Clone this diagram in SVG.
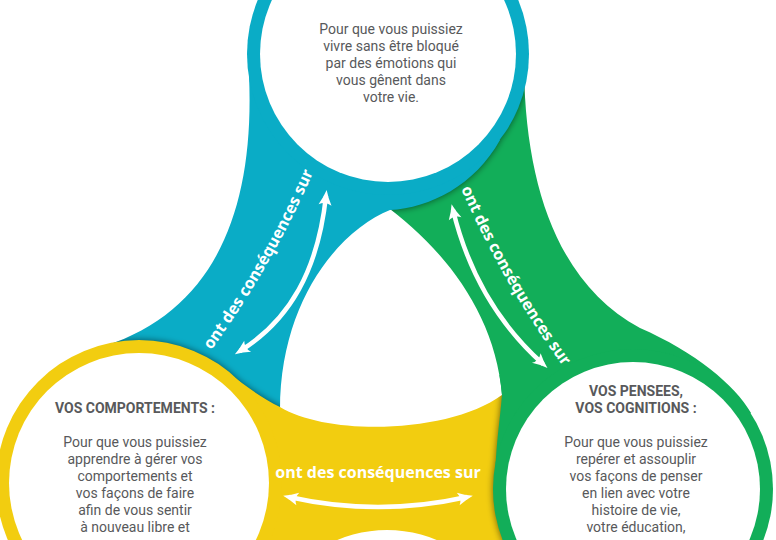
<svg xmlns="http://www.w3.org/2000/svg" xmlns:xlink="http://www.w3.org/1999/xlink" width="776" height="540" viewBox="0 0 776 540">
<style>
.fb{fill:#0aacc6}
.fg{fill:#12ae59}
.fy{fill:#f2cd10}
.w{fill:#ffffff}
.t{font-family:Roboto,"Liberation Sans",sans-serif;font-size:14px;fill:#58595b;text-anchor:middle}
.h{font-weight:700}
.lb{font-family:"Open Sans","Liberation Sans",sans-serif;font-size:16px;font-weight:700;fill:#ffffff}
.ar{fill:none;stroke:#ffffff;stroke-width:4.5;marker-start:url(#ah);marker-end:url(#ah)}
</style>
<defs>
<filter id="sh" x="-10%" y="-10%" width="120%" height="120%">
<feGaussianBlur in="SourceAlpha" stdDeviation="3.5"/>
<feComponentTransfer><feFuncA type="linear" slope="0.55"/></feComponentTransfer>
</filter>
<marker id="ah" viewBox="-10 -7 17 14" refX="0" refY="0" markerWidth="17" markerHeight="14" markerUnits="userSpaceOnUse" orient="auto-start-reverse" overflow="visible">
<path d="M6,0 Q-2,-2.5 -9,-6.5 Q-5,0 -9,6.5 Q-2,2.5 6,0 Z" fill="#ffffff"/>
</marker>
<path id="bandB" d="M 388,54 L 249,75 C 255,210 215,310 105,346 L 139,483 L 280,410 C 280,300 340,230 390,210 C 430,208 475,185 500,140 Z"/>
<circle id="ringB" cx="388" cy="54" r="141"/>
<path id="bandY" d="M 139,483 L 225,370 C 245,386 262,398 280,407 C 330,437 450,433 502,395 L 633,489 L 600,600 L 470,600 L 452.5,548 A 128 128 0 0 0 321.5,548 L 300,600 L 139,600 Z"/>
<circle id="ringY" cx="139" cy="483" r="143"/>
<path id="bandG" d="M 633,489 L 495,485 C 495,450 500,420 502,395 C 495,310 440,245 382,203 L 388,54 L 524,70 C 526,190 560,285 640,328 C 695,352 735,385 751,413 Z"/>
<circle id="ringG" cx="633" cy="489" r="140"/>
<clipPath id="cG"><use href="#bandG"/><use href="#ringG"/></clipPath>
<clipPath id="cB"><use href="#bandB"/><use href="#ringB"/></clipPath>
<clipPath id="cY"><use href="#bandY"/><use href="#ringY"/></clipPath>
<clipPath id="cR"><rect x="470" y="375" width="100" height="180"/></clipPath>
<path id="lpB" d="M 198,368 Q 274,268 322,152"/>
<path id="lpG" d="M 454,172 Q 500,284 574,381"/>
</defs>
<rect width="776" height="540" fill="#ffffff"/>
<g id="bands">
<g class="fg"><use href="#bandG"/><use href="#ringG"/></g>
<g clip-path="url(#cG)"><g filter="url(#sh)"><use href="#bandB"/><use href="#ringB"/></g></g>
<g class="fb"><use href="#bandB"/><use href="#ringB"/></g>
<g clip-path="url(#cB)"><g filter="url(#sh)"><use href="#bandY"/><use href="#ringY"/></g></g>
<g class="fy"><use href="#bandY"/><use href="#ringY"/></g>
<g clip-path="url(#cY)"><g filter="url(#sh)"><use href="#bandG"/><use href="#ringG"/></g></g>
<g clip-path="url(#cR)"><g class="fg"><use href="#bandG"/><use href="#ringG"/></g></g>
</g>
<g id="node-emotions">
<circle class="w" cx="388" cy="54" r="128"/>
<text class="t"><tspan x="391" y="34">Pour que vous puissiez</tspan><tspan x="391" y="51">vivre sans être bloqué</tspan><tspan x="391" y="68">par des émotions qui</tspan><tspan x="391" y="85">vous gênent dans</tspan><tspan x="391" y="102">votre vie.</tspan></text>
</g>
<g id="node-comportements">
<circle class="w" cx="139" cy="483" r="130"/>
<text class="t h" x="135" y="413">VOS COMPORTEMENTS :</text>
<text class="t"><tspan x="135" y="447">Pour que vous puissiez</tspan><tspan x="135" y="464">apprendre à gérer vos</tspan><tspan x="135" y="481">comportements et</tspan><tspan x="135" y="498">vos façons de faire</tspan><tspan x="135" y="515">afin de vous sentir</tspan><tspan x="135" y="532">à nouveau libre et</tspan></text>
</g>
<g id="node-pensees">
<circle class="w" cx="633" cy="489" r="127"/>
<text class="t h"><tspan x="636" y="396">VOS PENSEES,</tspan><tspan x="636" y="413">VOS COGNITIONS :</tspan></text>
<text class="t"><tspan x="636" y="447">Pour que vous puissiez</tspan><tspan x="636" y="464">repérer et assouplir</tspan><tspan x="636" y="481">vos façons de penser</tspan><tspan x="636" y="498">en lien avec votre</tspan><tspan x="636" y="515">histoire de vie,</tspan><tspan x="636" y="532">votre éducation,</tspan></text>
</g>
<g id="connectors">
<path class="ar" d="M 326,196 C 318,270 290,320 240,351"/>
<path class="ar" d="M 453,210 C 470,280 505,330 543,364"/>
<path class="ar" d="M 289,497 Q 378,517 467,497"/>
<text class="lb"><textPath href="#lpB" startOffset="50%" text-anchor="middle">ont des conséquences sur</textPath></text>
<text class="lb"><textPath href="#lpG" startOffset="50%" text-anchor="middle">ont des conséquences sur</textPath></text>
<text class="lb" x="378" y="478" text-anchor="middle">ont des conséquences sur</text>
</g>
</svg>
